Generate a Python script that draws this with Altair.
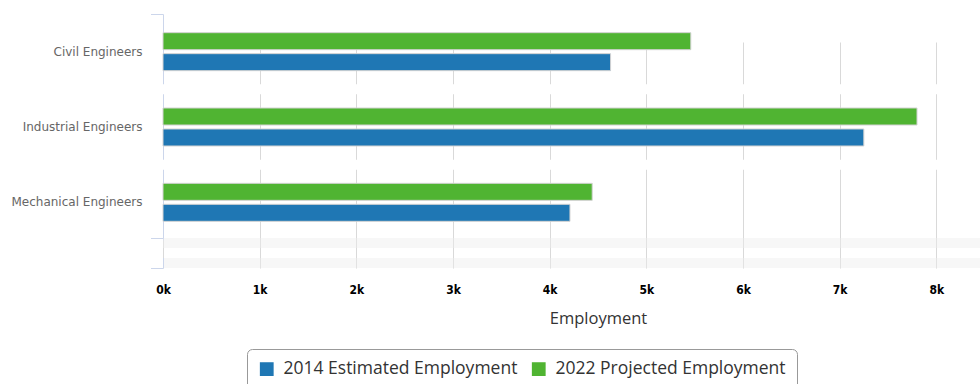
import altair as alt
import pandas as pd

categories = ["Civil Engineers", "Industrial Engineers", "Mechanical Engineers"]
series = ["2014 Estimated Employment", "2022 Projected Employment"]
emp_2014 = [4630, 7250, 4210]
emp_2022 = [5460, 7800, 4440]
x_ticks = [0, 1000, 2000, 3000, 4000, 5000, 6000, 7000, 8000]
colors = ["#1f77b4", "#50b432"]

rows = []
for c, a, b in zip(categories, emp_2014, emp_2022):
    rows.append({"occupation": c, "series": series[0], "value": a})
    rows.append({"occupation": c, "series": series[1], "value": b})
df = pd.DataFrame(rows)

W, H = 817, 254
AXIS_COLOR = "#ccd6eb"

y_scale = alt.Scale(domain=categories, range=[0, 226], paddingInner=0, paddingOuter=0)
x_scale = alt.Scale(domain=[0, 9000], range=[0, 870], nice=False, zero=True)

y_axis = alt.Axis(
    title=None,
    domainColor=AXIS_COLOR,
    domainWidth=1,
    ticks=False,
    tickSize=0,
    grid=False,
    labelPadding=21,
    labelFont="DejaVu Sans",
    labelFontSize=12,
    labelColor="#666666",
    zindex=0,
)

stripe1 = alt.Chart(alt.Data(values=[{}])).mark_rect(color="#eeeeee", opacity=0.45).encode(
    x=alt.value(0), x2=alt.value(W), y=alt.value(224), y2=alt.value(234))
stripe2 = alt.Chart(alt.Data(values=[{}])).mark_rect(color="#eeeeee", opacity=0.45).encode(
    x=alt.value(0), x2=alt.value(W), y=alt.value(244), y2=alt.value(254))

gap_df = pd.DataFrame({"occupation": categories[:2]})
gaps = alt.Chart(gap_df).mark_rule(color="white", strokeWidth=10, strokeCap="square").encode(
    y=alt.Y("occupation:N", bandPosition=1, scale=y_scale, sort=categories, axis=y_axis)
)

seg = alt.Chart(alt.Data(values=[{}])).mark_rule(color=AXIS_COLOR, strokeWidth=1).encode(
    x=alt.value(0.5), y=alt.value(244), y2=alt.value(254))
tick_top = alt.Chart(alt.Data(values=[{}])).mark_rule(color=AXIS_COLOR, strokeWidth=1).encode(
    x=alt.value(-12), x2=alt.value(0.5), y=alt.value(0.5))
tick_mid = alt.Chart(alt.Data(values=[{}])).mark_rule(color=AXIS_COLOR, strokeWidth=1).encode(
    x=alt.value(-12), x2=alt.value(0.5), y=alt.value(224.5))
tick_bot = alt.Chart(alt.Data(values=[{}])).mark_rule(color=AXIS_COLOR, strokeWidth=1).encode(
    x=alt.value(-12), x2=alt.value(0.5), y=alt.value(254.5))

bars = alt.Chart(df).mark_bar(stroke="#d2d2d2", strokeWidth=1).encode(
    x=alt.X(
        "value:Q",
        scale=x_scale,
        axis=alt.Axis(
            title="Employment",
            values=x_ticks,
            labelExpr="datum.value / 1000 + 'k'",
            grid=True,
            gridColor="#d9d9d9",
            gridWidth=1,
            domain=False,
            ticks=False,
            tickSize=0,
            labelPadding=16,
            labelFont="Liberation Sans Narrow, DejaVu Sans Condensed, Arial",
            labelFontWeight="bold",
            labelFontSize=12,
            labelColor="#000000",
            labelFlush=False,
            titleFont="Open Sans",
            titleFontSize=16.5,
            titleFontWeight="normal",
            titleColor="#333333",
            titlePadding=15,
        ),
    ),
    y=alt.Y("occupation:N", scale=y_scale, sort=categories, axis=y_axis),
    yOffset=alt.YOffset(
        "series:N",
        sort=[series[1], series[0]],
        scale=alt.Scale(domain=[series[1], series[0]], paddingInner=0.19, paddingOuter=0.89),
    ),
    color=alt.Color(
        "series:N",
        scale=alt.Scale(domain=series, range=colors),
        legend=alt.Legend(
            title=None,
            orient="none",
            legendX=84,
            legendY=335,
            direction="horizontal",
            strokeColor="#999999",
            cornerRadius=5,
            padding=11,
            fillColor="white",
            symbolType="square",
            symbolSize=190,
            symbolStrokeWidth=0,
            labelFont="Open Sans",
            labelFontSize=17.5,
            labelColor="#333333",
            labelOffset=8,
            labelLimit=0,
            columnPadding=12,
        ),
    ),
)

chart = alt.layer(stripe1, stripe2, gaps, seg, tick_top, tick_mid, tick_bot, bars).properties(
    width=W,
    height=H,
    padding={"left": 163, "top": 14, "right": 0, "bottom": 116},
    autosize=alt.AutoSizeParams(type="none"),
).configure_view(stroke=None)

chart.save("out.html", embed_options={"renderer": "svg", "actions": False})
